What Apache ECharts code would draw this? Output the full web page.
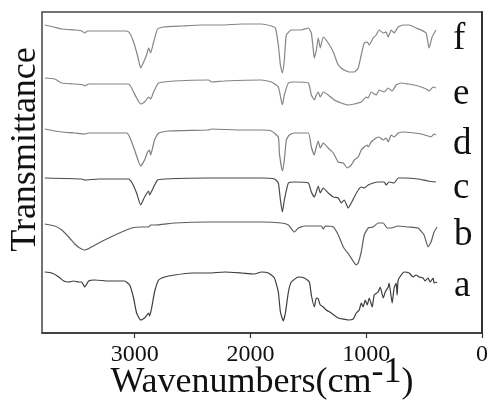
<!DOCTYPE html>
<html>
<head>
<meta charset="utf-8">
<script src="https://cdn.jsdelivr.net/npm/echarts@6/dist/echarts.min.js"></script>
<style>
  html, body { margin: 0; padding: 0; background: #fff; }
  #chart { width: 489px; height: 401px; }
</style>
</head>
<body>
<div id="chart"></div>
<script>
// FTIR spectra, stacked with vertical offsets (arbitrary transmittance units).
// Each spectrum: [wavenumber (cm-1), offset transmittance]
const sampleNames = ['f', 'e', 'd', 'c', 'b', 'a'];
const xTickValues = [0, 1000, 2000, 3000];

const spectrumF = [
  [3776,308],[3698,306],[3629,304],[3500,303],[3457,302],[3431,300],[3405,302],[3284,302],
  [3155,302],[3069,302],[3043,300],[3009,291],[2974,277],[2948,265],[2922,271],[2897,278],
  [2879,285],[2862,280],[2836,291],[2802,304],[2750,306],[2595,307],[2422,308],[2250,308],
  [2078,309],[1905,309],[1819,307],[1784,305],[1759,288],[1741,268],[1724,260],[1707,273],
  [1690,298],[1647,303],[1560,303],[1500,305],[1474,300],[1457,283],[1448,275],[1431,283],
  [1414,295],[1397,285],[1371,296],[1328,290],[1284,281],[1259,273],[1241,268],[1216,265],
  [1190,263],[1147,261],[1103,261],[1069,265],[1043,278],[1017,290],[991,291],[974,288],
  [940,295],[914,298],[888,303],[853,300],[828,301],[810,296],[784,303],[759,300],
  [724,306],[681,308],[629,308],[569,305],[526,303],[483,300],[457,285],[431,296],[397,303]
];

const spectrumE = [
  [3776,255],[3690,254],[3629,250],[3517,249],[3440,248],[3431,247],[3397,249],[3224,249],
  [3052,249],[3026,245],[2983,235],[2948,229],[2914,231],[2879,236],[2862,234],[2836,241],
  [2793,250],[2655,252],[2362,253],[2336,251],[2224,252],[1905,253],[1819,251],[1759,246],
  [1724,228],[1707,238],[1672,250],[1621,251],[1500,250],[1474,238],[1448,233],[1431,238],
  [1414,241],[1397,236],[1371,241],[1328,238],[1276,233],[1216,230],[1155,228],[1103,229],
  [1043,231],[1000,236],[983,235],[957,241],[914,238],[888,243],[845,241],[810,245],
  [776,242],[741,248],[698,250],[638,249],[586,248],[526,246],[483,244],[457,242],
  [422,246],[397,245]
];

const spectrumD = [
  [3776,204],[3690,202],[3629,201],[3517,200],[3431,199],[3397,200],[3224,200],[3069,200],
  [3043,196],[3000,183],[2948,167],[2914,173],[2888,181],[2871,183],[2862,178],[2828,193],
  [2793,200],[2707,202],[2362,203],[2336,204],[2078,203],[1905,203],[1819,202],[1759,196],
  [1750,180],[1724,162],[1707,173],[1690,193],[1664,198],[1621,200],[1500,200],[1474,186],
  [1448,178],[1431,186],[1414,192],[1397,185],[1371,190],[1328,185],[1284,180],[1241,171],
  [1198,170],[1164,165],[1129,168],[1103,173],[1069,176],[1043,183],[1017,186],[991,188],
  [983,186],[957,191],[914,195],[888,196],[853,193],[828,195],[810,191],[784,198],
  [759,196],[724,200],[672,201],[586,200],[526,199],[466,197],[440,196],[414,199],[397,198]
];

const spectrumC = [
  [3776,155],[3457,154],[3431,153],[3310,154],[3052,154],[3026,151],[2983,140],[2948,128],
  [2914,136],[2879,142],[2871,138],[2836,146],[2802,153],[2741,154],[2362,155],[1905,155],
  [1793,154],[1759,150],[1741,133],[1724,121],[1707,133],[1672,150],[1621,151],[1500,150],
  [1474,141],[1448,136],[1431,141],[1414,147],[1397,140],[1371,145],[1328,140],[1284,136],
  [1241,135],[1216,130],[1190,133],[1155,125],[1129,130],[1103,136],[1069,143],[1043,146],
  [1017,145],[983,148],[940,150],[897,151],[845,151],[828,148],[802,151],[759,150],
  [724,155],[672,155],[552,154],[466,152],[397,151]
];

const spectrumB = [
  [3776,109],[3690,107],[3629,103],[3569,96],[3517,89],[3474,85],[3431,83],[3388,85],
  [3310,90],[3224,95],[3112,101],[3026,105],[2940,106],[2879,106],[2862,108],[2828,108],
  [2655,110],[2362,111],[1905,111],[1733,110],[1672,108],[1621,101],[1586,105],[1534,107],
  [1388,107],[1371,104],[1353,107],[1284,106],[1241,98],[1198,86],[1147,78],[1086,68],
  [1069,70],[1043,81],[1017,98],[983,105],[940,106],[897,110],[853,110],[819,105],
  [784,105],[724,107],[638,106],[552,105],[500,98],[466,86],[440,91],[414,101],[388,106]
];

const spectrumA = [
  [3776,61],[3716,60],[3655,56],[3612,52],[3569,51],[3526,52],[3483,51],[3457,51],
  [3431,46],[3397,52],[3345,53],[3224,52],[3086,52],[3043,48],[3009,35],[2983,20],
  [2948,13],[2914,15],[2879,20],[2871,17],[2853,25],[2828,41],[2793,53],[2741,56],
  [2655,58],[2509,60],[2362,60],[2224,61],[2078,60],[1966,59],[1905,61],[1845,60],
  [1793,55],[1759,41],[1741,21],[1716,12],[1698,20],[1672,41],[1647,51],[1586,56],
  [1534,55],[1491,51],[1474,38],[1448,26],[1431,35],[1414,34],[1397,28],[1371,26],
  [1345,23],[1302,20],[1241,15],[1155,13],[1112,14],[1086,20],[1060,23],[1043,30],
  [1026,26],[1009,33],[991,28],[974,35],[948,26],[931,38],[897,41],[879,46],
  [853,35],[836,41],[810,46],[802,50],[776,30],[759,45],[741,50],[733,38],
  [724,53],[698,58],[672,61],[629,60],[595,56],[569,58],[543,56],[509,55],
  [491,52],[466,55],[448,51],[422,55],[414,50],[388,51]
];

const spectra = [spectrumF, spectrumE, spectrumD, spectrumC, spectrumB, spectrumA];

// per-curve drawing style
const lineColors = ['#858585', '#858585', '#7e7e7e', '#4a4a4a', '#5e5e5e', '#3c3c3c'];
const labelOffsetY = [9, 6, 9, 6, 8, 4];

const serif = '"Liberation Serif", "Times New Roman", serif';

const chart = echarts.init(document.getElementById('chart'), null, { renderer: 'canvas' });

chart.setOption({
  animation: false,
  backgroundColor: '#fff',
  grid: {
    left: 42, right: 7, top: 12, bottom: 68,
    show: true, borderColor: '#444', borderWidth: 1.5,
    containLabel: false,
    outerBoundsMode: 'none'
  },
  xAxis: {
    type: 'value',
    inverse: true,
    min: 0, max: 3800, interval: 1000,
    name: 'Wavenumbers(cm{sup|-1})',
    nameLocation: 'middle',
    nameGap: 22,
    nameMoveOverlap: false,
    nameTextStyle: {
      fontFamily: serif, fontSize: 36, color: '#111',
      rich: {
        sup: { fontFamily: serif, fontSize: 36, color: '#111', padding: [0, 0, 20, 0] }
      }
    },
    axisLine: { show: true, lineStyle: { color: '#333', width: 1.5 } },
    axisTick: {
      show: true, inside: false, length: 5,
      customValues: xTickValues,
      lineStyle: { color: '#333', width: 1.2 }
    },
    axisLabel: {
      show: true, margin: 10,
      customValues: xTickValues,
      formatter: (v) => String(v),
      fontFamily: serif, fontSize: 24, color: '#111'
    },
    splitLine: { show: false }
  },
  yAxis: {
    type: 'value',
    min: 0, max: 321,
    name: 'Transmittance',
    nameLocation: 'middle',
    nameGap: -2,
    nameMoveOverlap: false,
    nameTextStyle: {
      fontFamily: serif, fontSize: 36, color: '#111',
      padding: [0, 0, 0, 46]
    },
    axisLine: { show: true, lineStyle: { color: '#333', width: 2 } },
    axisTick: { show: false },
    axisLabel: { show: false },
    splitLine: { show: false }
  },
  series: sampleNames.map((name, i) => ({
    name: name,
    type: 'line',
    data: spectra[i],
    showSymbol: false,
    symbol: 'none',
    smooth: 0.15,
    lineStyle: { color: lineColors[i], width: 1.2 },
    endLabel: {
      show: true,
      formatter: '{a}',
      fontFamily: serif,
      fontSize: 37,
      color: '#111',
      align: 'left',
      distance: 0,
      offset: [17, labelOffsetY[i]]
    },
    emphasis: { disabled: true }
  }))
});
</script>
</body>
</html>
